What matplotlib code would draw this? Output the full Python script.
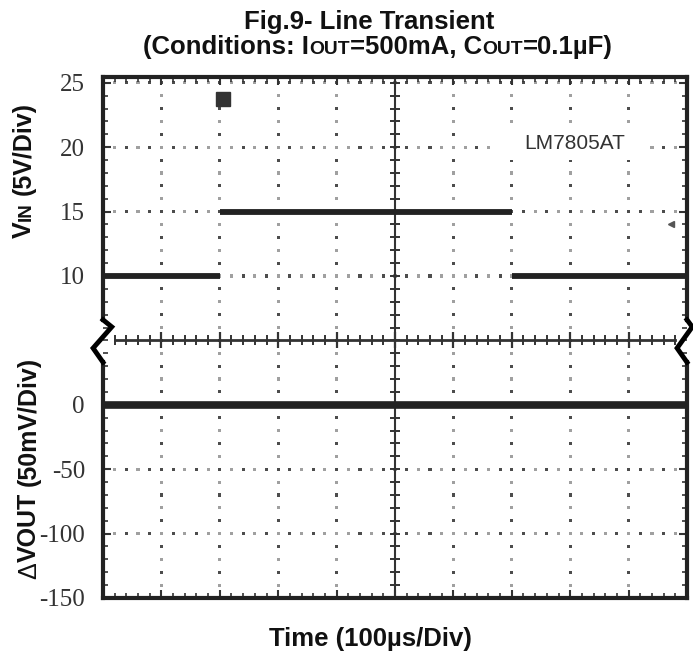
import matplotlib
matplotlib.use('Agg')
import matplotlib.pyplot as plt
import numpy as np
from matplotlib.ticker import MultipleLocator
from matplotlib.patches import Rectangle

# scope traces, time in divisions (100us/div)
vin_start = [0, 2, 7]
vin_end = [2, 7, 10]
vin_level = [10, 15, 10]        # V, 5V/div
vout_start = [0]
vout_end = [10]
vout_level = [0]                # mV, 50mV/div

vin_ticks = [10, 15, 20, 25]
vout_ticks = [0, -50, -100, -150]

trigger_t, trigger_div = 2.05, 7.75

W, H = 693, 657
SANS = 'Liberation Sans'
SERIF = 'Liberation Serif'


def vin_div(v):
    return v / 5 + 3


def vout_div(mv):
    return mv / 50 + 3


def pieces_text(fig, pieces, x, y, rotation=0):
    # pieces: (text, size, weight) or a float gap in px; x, y in image px (y down)
    r = fig.canvas.get_renderer()
    widths = []
    for p in pieces:
        if isinstance(p, float):
            widths.append(p)
            continue
        t = fig.text(0, 0, p[0], fontsize=p[1], fontweight=p[2], family=SANS)
        widths.append(t.get_window_extent(r).width)
        t.remove()
    total = sum(widths)
    if rotation == 0:
        pos = x - total / 2
    else:
        pos = (H - y) - total / 2
    for p, w in zip(pieces, widths):
        if not isinstance(p, float):
            if rotation == 0:
                fig.text(pos / W, 1 - y / H, p[0], fontsize=p[1], fontweight=p[2],
                         family=SANS, ha='left', va='baseline', color='#111')
            else:
                fig.text(x / W, pos / H, p[0], fontsize=p[1], fontweight=p[2],
                         family=SANS, ha='left', va='baseline', color='#111',
                         rotation=90, rotation_mode='anchor')
        pos += w


fig = plt.figure(figsize=(W / 100, H / 100), dpi=100)
ax = fig.add_axes([103 / W, 1 - 598 / H, 584 / W, 521 / H])
ax.set_xlim(0, 10)
ax.set_ylim(0, 8.09)

# dotted graticule
gx = np.arange(0, 10.001, 0.2)
gy = np.arange(0, 8.001, 0.2)
cols_x = ['#4d4d4d' if k % 2 == 0 else '#a0a0a0' for k in range(len(gx))]
cols_y = ['#4d4d4d' if k % 2 == 0 else '#a0a0a0' for k in range(len(gy))]
for j in [1, 2, 3, 5, 6, 7, 8]:
    ax.scatter(gx, np.full(len(gx), j), marker='s', s=5, c=cols_x, lw=0, zorder=1)
for i in [1, 2, 3, 4, 6, 7, 8, 9]:
    ax.scatter(np.full(len(gy), i), gy, marker='s', s=5, c=cols_y, lw=0, zorder=1)

# centre cross lines
ax.plot([5, 5], [0, 8.09], color='#333333', lw=1.5, zorder=1.5)
ax.scatter(np.full(len(gy), 5), gy, marker='_', s=45, lw=1.4, color='#333333', zorder=1.5)
cx = gx[(gx > 0.15) & (gx < 9.85)]
ax.plot([0.2, 9.8], [4, 4], color='#333333', lw=2, zorder=1.5)
ax.scatter(cx, np.full(len(cx), 4), marker='|', s=45, lw=1.4, color='#333333', zorder=1.5)
ax.scatter(np.arange(1, 10), np.full(9, 4), marker='|', s=120, lw=1.6, color='#333333', zorder=1.5)

# label box
ax.add_patch(Rectangle((6.67, 6.8), 2.68, 0.51, facecolor='white', edgecolor='none', zorder=2))
ax.text(7.22, 7.05, 'LM7805AT', family=SANS, fontsize=15, color='#333333',
        ha='left', va='center', zorder=3)

# traces
ax.hlines([vin_div(v) for v in vin_level], vin_start, vin_end, color='#222222', lw=4.2, zorder=4)
ax.hlines([vout_div(v) for v in vout_level], vout_start, vout_end, color='#222222', lw=5.5, zorder=4)
ax.plot(trigger_t, trigger_div, 's', ms=9.5, color='#333333', zorder=4)
ax.plot(9.72, 5.8, '<', ms=5, color='#555555', zorder=4)

# frame with break marks
for s in ['left', 'right']:
    ax.spines[s].set_visible(False)
for s in ['top', 'bottom']:
    ax.spines[s].set_linewidth(3)
    ax.spines[s].set_color('#222222')
    ax.spines[s].set_zorder(5)
for x0, jog in [(0, 0.15), (10, 0.09)]:
    ax.plot([x0, x0], [8.09, 4.32], color='#222222', lw=3, clip_on=False, zorder=5,
            solid_capstyle='projecting')
    ax.plot([x0, x0], [3.66, 0], color='#222222', lw=3, clip_on=False, zorder=5,
            solid_capstyle='projecting')
    ax.plot([x0, x0 + jog, x0 - 0.17, x0], [4.32, 4.21, 3.88, 3.66], color='black',
            lw=3.5, clip_on=False, zorder=5, solid_joinstyle='miter')

# ticks
ax.set_xticks(range(11))
ax.set_yticks([vout_div(v) for v in vout_ticks] + [vin_div(v) for v in vin_ticks])
ax.set_yticklabels([str(v) for v in vout_ticks] + [str(v) for v in vin_ticks])
ax.xaxis.set_minor_locator(MultipleLocator(0.2))
ax.yaxis.set_minor_locator(MultipleLocator(0.2))
ax.tick_params(which='both', direction='in', top=True, right=True, color='#333333',
               labelbottom=False)
ax.tick_params(which='major', length=6, width=1.5, labelsize=18, pad=13,
               labelcolor='#333333')
ax.tick_params(which='minor', length=3.5, width=1.2)
for lab in ax.get_yticklabels():
    lab.set_family(SERIF)

# titles and axis labels
big = 18.5
small = big * 0.75
pieces_text(fig, [('Fig.9- Line Transient', big, 'bold')], 369, 29)
pieces_text(fig, [('(Conditions: I', big, 'bold'), ('OUT', small, 'bold'),
                  ('=500mA, C', big, 'bold'), ('OUT', small, 'bold'),
                  ('=0.1\u00b5F)', big, 'bold')], 378, 54)
pieces_text(fig, [('Time (100\u00b5s/Div)', big, 'bold')], 370, 646)
pieces_text(fig, [('V', 18, 'bold'), ('IN', 13.5, 'bold'), 7.0,
                  ('(5V/Div)', 18, 'bold')], 31, 170, rotation=90)
pieces_text(fig, [('\u0394', 18, 'normal'), ('VOUT', 18, 'bold'), 7.0,
                  ('(50mV/Div)', 18, 'bold')], 36, 468, rotation=90)

fig.savefig('out.png', dpi=100)
